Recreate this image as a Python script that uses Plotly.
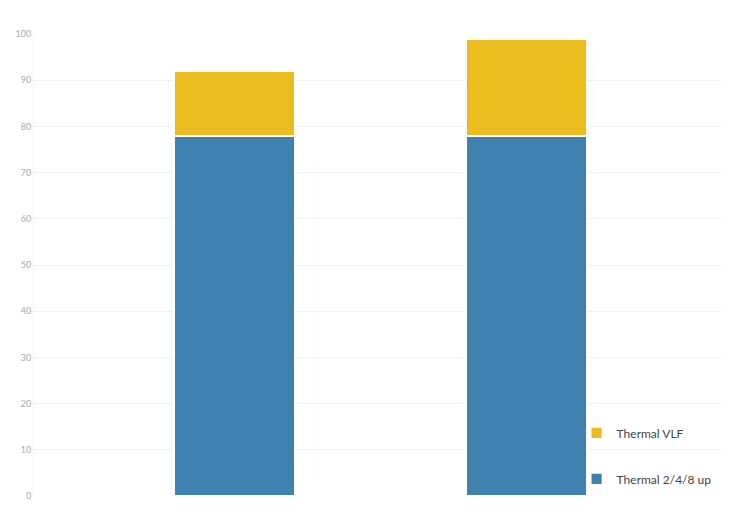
import plotly.graph_objects as go

categories = ["Option A", "Option B"]
thermal_248_up = [78, 78]
thermal_vlf = [14, 21]
y_ticks = [0, 10, 20, 30, 40, 50, 60, 70, 80, 90, 100]

fig = go.Figure()
fig.add_trace(go.Bar(
    x=categories, y=thermal_248_up, name="Thermal 2/4/8 up",
    marker=dict(color="#4082af", line=dict(color="white", width=1.8)),
    width=0.415, legendgroup="a", legendrank=2,
))
fig.add_trace(go.Bar(
    x=categories, y=thermal_vlf, name="Thermal VLF",
    marker=dict(color="#eabc1e", line=dict(color="white", width=1.8)),
    width=0.415, legendgroup="b", legendrank=1,
))

fig.update_layout(
    width=722, height=518,
    barmode="stack",
    margin=dict(l=26, r=3, t=26, b=30),
    paper_bgcolor="white", plot_bgcolor="white",
    font=dict(family="Lato, 'Noto Sans', sans-serif", color="#444"),
    xaxis=dict(range=[-0.687, 1.687], showticklabels=False, showgrid=False,
               zeroline=False, showline=False, ticks=""),
    yaxis=dict(range=[0, 100], tickvals=y_ticks, showgrid=True,
               gridcolor="#f0f0f0", gridwidth=1, zeroline=False,
               showline=True, linecolor="#f3f3f3", linewidth=1,
               tickfont=dict(size=9, color="#aaaaaa"), ticks=""),
    legend=dict(traceorder="grouped", tracegroupgap=27,
                x=0.783, y=0.168, xanchor="left", yanchor="top",
                font=dict(size=12, color="#444"), bgcolor="rgba(0,0,0,0)"),
)

fig.write_html("out.html")
